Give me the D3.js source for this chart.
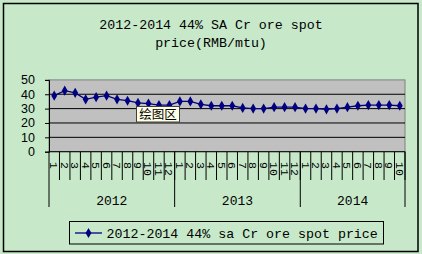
<!DOCTYPE html>
<html>
<head>
<meta charset="utf-8">
<script src="https://cdn.jsdelivr.net/npm/d3@7"></script>
<style>
  body { margin: 0; background: #c7e9c9; }
  text { font-family: "Liberation Mono", "DejaVu Sans Mono", monospace; fill: #000; }
</style>
</head>
<body>
<script>
// chart data
var years = ["2012", "2013", "2014"];
var monthsPerYear = [12, 12, 10];
var prices = [39, 42.5, 41, 36.5, 38, 39, 36.5, 35.5, 34, 33.5, 32.5, 32.5,
              35, 35, 33, 32, 32, 32, 30.5, 30, 30, 31, 31, 31,
              30, 30, 29.5, 30, 31, 32, 32.5, 32.5, 32.5, 32];
var yTicks = [0, 10, 20, 30, 40, 50];
var titleLines = ["2012-2014 44% SA Cr ore spot", "price(RMB/mtu)"];
var legendLabel = "2012-2014 44% sa Cr ore spot price";

var width = 422, height = 254;
var plot = {left: 49, right: 405, top: 79.9, bottom: 151.7};
var lineColor = "#000080";

// one category per month, labelled by month number
var categories = [];
years.forEach(function(yr, i) {
  for (var m = 1; m <= monthsPerYear[i]; m++) categories.push({year: yr, month: m, key: yr + "-" + m});
});

var svg = d3.select("body").append("svg")
  .attr("width", width)
  .attr("height", height);

// outer chart area
svg.append("rect")
  .attr("x", 3.5).attr("y", 3.5)
  .attr("width", 414.5).attr("height", 248)
  .attr("fill", "#c7e9c9")
  .attr("stroke", "#000").attr("stroke-width", 1.5);

// title
svg.selectAll(".title").data(titleLines).enter().append("text")
  .attr("x", 211).attr("y", function(d, i) { return 29 + i * 18; })
  .attr("text-anchor", "middle")
  .style("font-size", "13.3px")
  .text(function(d) { return d; });

var x = d3.scaleBand()
  .domain(categories.map(function(d) { return d.key; }))
  .range([plot.left, plot.right]);

var y = d3.scaleLinear()
  .domain([0, 50])
  .range([plot.bottom, plot.top]);

// plot area
svg.append("rect")
  .attr("x", plot.left).attr("y", plot.top)
  .attr("width", plot.right - plot.left).attr("height", plot.bottom - plot.top)
  .attr("fill", "#c0c0c0")
  .attr("stroke", "#808080");

// gridlines
svg.selectAll(".grid").data(yTicks.slice(1, -1)).enter().append("line")
  .attr("x1", plot.left).attr("x2", plot.right)
  .attr("y1", function(d) { return y(d); }).attr("y2", function(d) { return y(d); })
  .attr("stroke", "#000");

// value axis
var yAxis = svg.append("g")
  .attr("transform", "translate(" + plot.left + ",0)")
  .call(d3.axisLeft(y).tickValues(yTicks).tickSize(4).tickPadding(10));
yAxis.select(".domain").attr("stroke", "#000");
yAxis.selectAll("text")
  .style("font-size", "12.5px")
  .style("font-family", "Liberation Sans")
  .attr("fill", "#000");
yAxis.selectAll("line").attr("stroke", "#000");

// category axis: baseline, month dividers, month labels
svg.append("line")
  .attr("x1", plot.left).attr("x2", plot.right)
  .attr("y1", plot.bottom).attr("y2", plot.bottom)
  .attr("stroke", "#000");

svg.selectAll(".mdiv").data(categories).enter().append("line")
  .attr("x1", function(d) { return x(d.key) + x.bandwidth(); })
  .attr("x2", function(d) { return x(d.key) + x.bandwidth(); })
  .attr("y1", plot.bottom).attr("y2", 180)
  .attr("stroke", "#000");

svg.selectAll(".mlab").data(categories).enter().append("text")
  .attr("transform", function(d) {
    return "translate(" + (x(d.key) + x.bandwidth() / 2 - 4) + ",162) rotate(90)";
  })
  .style("font-size", "11.5px")
  .text(function(d) { return d.month; });

// year groups
var start = 0;
var yearSpans = years.map(function(yr, i) {
  var span = {year: yr, x0: x(categories[start].key), x1: x(categories[start + monthsPerYear[i] - 1].key) + x.bandwidth()};
  start += monthsPerYear[i];
  return span;
});

svg.selectAll(".ydiv").data([plot.left].concat(yearSpans.map(function(d) { return d.x1; })))
  .enter().append("line")
  .attr("x1", function(d) { return d; }).attr("x2", function(d) { return d; })
  .attr("y1", plot.bottom).attr("y2", 207)
  .attr("stroke", "#000");

svg.selectAll(".ylab").data(yearSpans).enter().append("text")
  .attr("x", function(d) { return (d.x0 + d.x1) / 2; })
  .attr("y", 205)
  .attr("text-anchor", "middle")
  .style("font-size", "13px")
  .text(function(d) { return d.year; });

// price series
var line = d3.line()
  .x(function(d, i) { return x(categories[i].key) + x.bandwidth() / 2; })
  .y(function(d) { return y(d); });

svg.append("path")
  .datum(prices)
  .attr("d", line)
  .attr("fill", "none")
  .attr("stroke", lineColor)
  .attr("stroke-width", 1.3);

var diamond = d3.symbol().type(d3.symbolDiamond).size(30);
svg.selectAll(".pt").data(prices).enter().append("path")
  .attr("d", diamond)
  .attr("transform", function(d, i) {
    return "translate(" + (x(categories[i].key) + x.bandwidth() / 2) + "," + y(d) + ")";
  })
  .attr("fill", lineColor);

// "plot area" tooltip left over from the screenshot
var tip = svg.append("g").attr("transform", "translate(136.5,106.5)");
tip.append("rect")
  .attr("width", 43).attr("height", 15.5)
  .attr("fill", "#ffffe6")
  .attr("stroke", "#404040");
tip.append("text")
  .attr("x", 21.5).attr("y", 12.5)
  .attr("text-anchor", "middle")
  .style("font-family", "Noto Sans CJK SC")
  .style("font-size", "12.5px")
  .text("绘图区");

// legend
var legend = svg.append("g");
legend.append("rect")
  .attr("x", 69.5).attr("y", 221.5)
  .attr("width", 314).attr("height", 22.5)
  .attr("fill", "#c7e9c9")
  .attr("stroke", "#000");
legend.append("line")
  .attr("x1", 75).attr("x2", 102)
  .attr("y1", 233).attr("y2", 233)
  .attr("stroke", lineColor).attr("stroke-width", 1.3);
legend.append("path")
  .attr("d", diamond)
  .attr("transform", "translate(88.5,233)")
  .attr("fill", lineColor);
legend.append("text")
  .attr("x", 106.5).attr("y", 237.5)
  .style("font-size", "13.3px")
  .text(legendLabel);
</script>
</body>
</html>
